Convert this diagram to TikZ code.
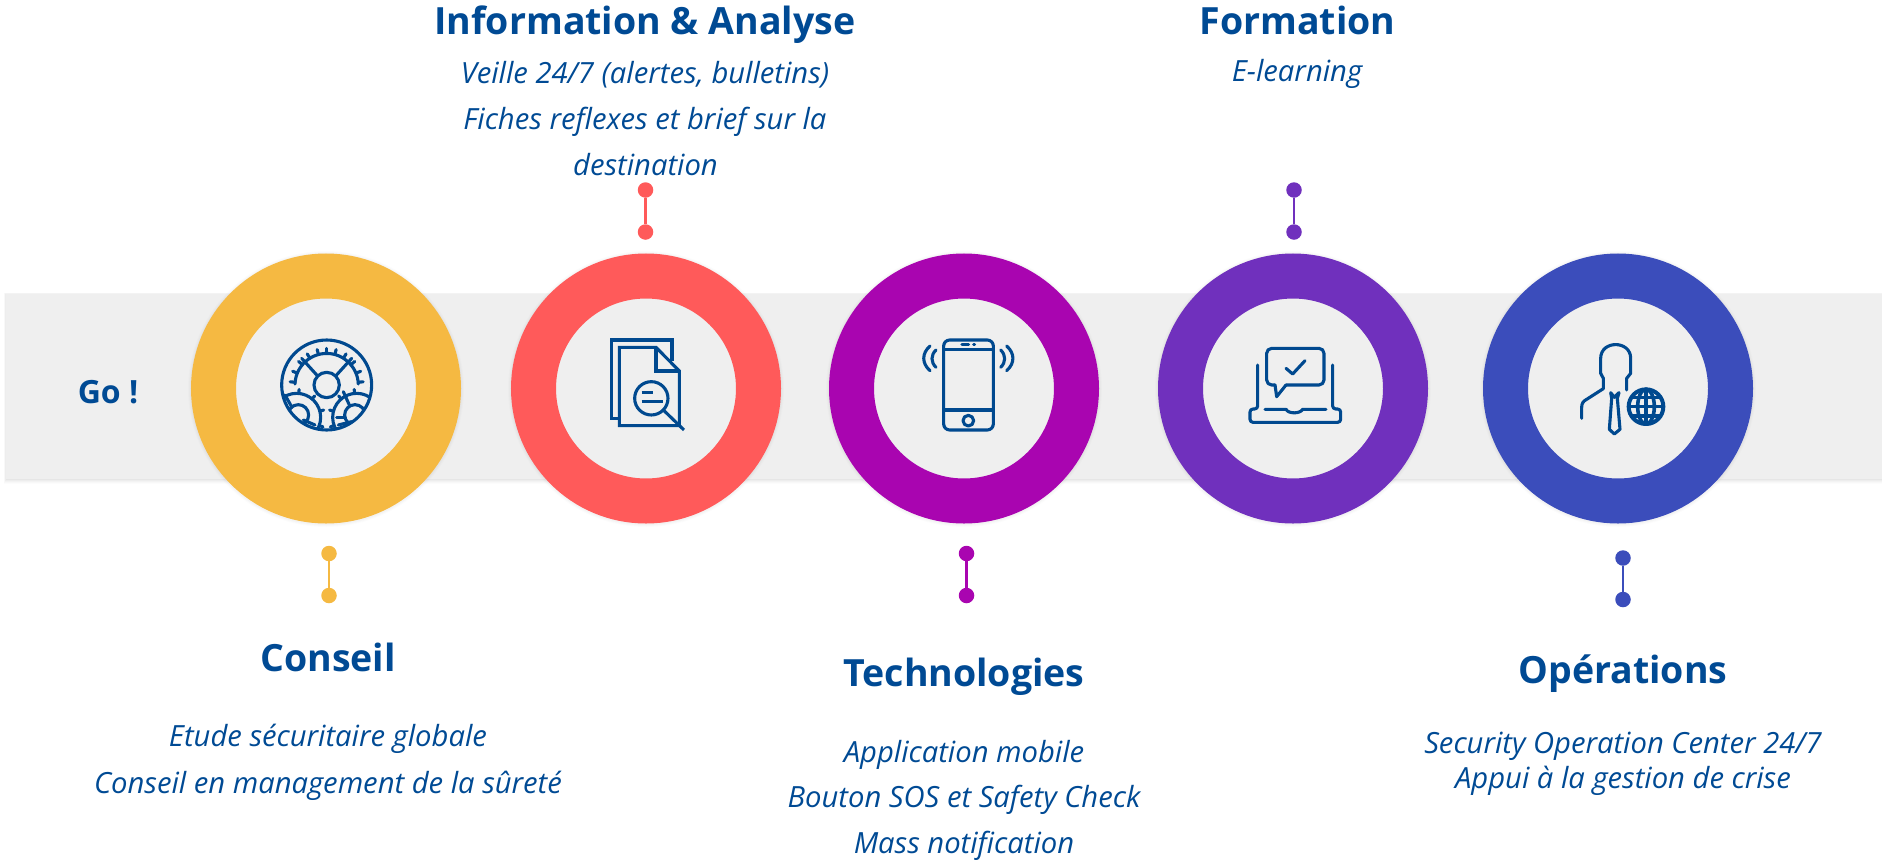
\documentclass[tikz,border=0pt]{standalone}
\usepackage{fontspec}
\setmainfont{Open Sans}
\definecolor{navy}{HTML}{00498F}
\definecolor{txt}{HTML}{004A94}
\definecolor{band}{HTML}{EFEFEF}
\definecolor{cyel}{HTML}{F5B942}
\definecolor{cred}{HTML}{FF5A5A}
\definecolor{cmag}{HTML}{A905B0}
\definecolor{cpur}{HTML}{7030BD}
\definecolor{cblu}{HTML}{3B4DBB}
\tikzset{
  ringnode/.style={circle,draw=#1,line width=45pt,fill=band,minimum size=225pt,inner sep=0pt},
  dotnode/.style={circle,fill=#1,minimum size=15.5pt,inner sep=0pt},
  linkline/.style={draw=#1,line width=2.8pt},
  titletext/.style={text=txt,font=\fontsize{37.5}{40}\selectfont\bfseries,inner sep=0pt},
  bodytext/.style={text=txt,font=\fontsize{29.2}{32}\selectfont\itshape,inner sep=0pt},
  icon/.style={draw=navy,line width=3.1pt,line cap=round,line join=round},
}
\begin{document}
\begin{tikzpicture}[x=1pt,y=-1pt]
\useasboundingbox (0,0) rectangle (1882,860);
% band with soft shadow
\foreach \i/\o in {5/0.012,4/0.016,3/0.02,2/0.025,1/0.03}
  \fill[black,opacity=\o] (6-\i*0.4,294-\i*0.2) rectangle (1882,479+\i);
\fill[band] (6,294) rectangle (1882,479);
\node[text=txt,font=\fontsize{32}{34}\selectfont\bfseries,inner sep=0pt] (go) at (108,392) {Go !};
% rings
\foreach \n/\xx/\c in {r1/326/cyel,r2/646/cred,r3/964/cmag,r4/1293/cpur,r5/1618/cblu}{
  \foreach \i/\o in {3/0.01,2/0.015,1/0.02}
    \fill[black,opacity=\o] (\xx,389) circle (135+\i);
  \node[ringnode=\c] (\n) at (\xx,388.5) {};
}
% connectors
\foreach \a/\b/\xx/\ya/\yb/\c in {a1/b1/329/553.5/595.5/cyel,a2/b2/645.5/190/232/cred,a3/b3/966.5/553.5/595.5/cmag,a4/b4/1294/190/232/cpur,a5/b5/1623/558/599.5/cblu}{
  \node[dotnode=\c] (\a) at (\xx,\ya) {};
  \node[dotnode=\c] (\b) at (\xx,\yb) {};
  \draw[linkline=\c] (\a) -- (\b);
}
% texts
\node[titletext] (t2) at (645,25) {Information \& Analyse};
\node[bodytext] (t2a) at (645,74.5) {Veille 24/7 (alertes, bulletins)};
\node[bodytext] (t2b) at (645,122) {Fiches reflexes et brief sur la};
\node[bodytext] (t2c) at (645.5,165) {destination};
\node[titletext] (t4) at (1297.5,20) {Formation};
\node[bodytext] (t4a) at (1297,73.5) {E-learning};
\node[titletext] (t1) at (328,657.5) {Conseil};
\node[bodytext] (t1a) at (328,738.5) {Etude sécuritaire globale};
\node[bodytext] (t1b) at (328,785.5) {Conseil en management de la sûreté};
\node[titletext] (t3) at (964,677) {Technologies};
\node[bodytext] (t3a) at (964,754.5) {Application mobile};
\node[bodytext] (t3b) at (964,800) {Bouton SOS et Safety Check};
\node[bodytext] (t3c) at (964,845.5) {Mass notification};
\node[titletext] (t5) at (1623,674) {Opérations};
\node[bodytext] (t5a) at (1623,746) {Security Operation Center 24/7};
\node[bodytext] (t5b) at (1623,780.5) {Appui à la gestion de crise};
% gears icon
\begin{scope}[shift={(270,330)},x=0.3333pt,y=-0.3333pt,icon]
  \draw (170,165) circle[radius=135];
  \draw (170,165) circle[radius=38];
  \draw (75,162) arc[start angle=182,end angle=358,radius=95];
  \foreach \a in {185,202,220,238,255,270,285,302,320,338,355}
    \draw (170,165) ++(\a:95) -- ++(\a:15);
  \draw (143,138) -- (95,85);
  \draw (197,138) -- (245,85);
  \begin{scope}
    \clip (170,165) circle[radius=133];
    \draw (80,262) circle[radius=72];
    \draw (260,262) circle[radius=72];
    \draw (85,255) circle[radius=31];
    \draw (255,255) circle[radius=31];
    \draw (45,195) -- (66,232);
    \draw (100,270) -- (135,285);
    \draw (220,185) -- (238,225);
    \draw (200,262) -- (226,262);
    \draw (205,285) -- (245,275);
  \end{scope}
  \foreach \a in {-85,-50,-15,20}
    \draw (80,262) ++(\a:72) -- ++(\a:12);
  \foreach \a in {265,230,195,160}
    \draw (260,262) ++(\a:72) -- ++(\a:12);
\end{scope}
% document icon
\begin{scope}[shift={(560,310)},x=0.3333pt,y=-0.3333pt,icon,line cap=butt,line join=miter]
  \draw (178,325) -- (155,325) -- (155,90) -- (336,90) -- (336,152);
  \draw (178,112) -- (288,112) -- (358,183) -- (358,347) -- (178,347) -- cycle;
  \draw (288,112) -- (288,183) -- (358,183);
  \draw (274,265) circle[radius=50];
  \draw (310,300) -- (372,360);
  \draw (245,247) -- (280,247);
  \draw (245,275) -- (308,275);
\end{scope}
% phone icon
\begin{scope}[shift={(890,310)},x=0.3333pt,y=-0.3333pt,icon]
  \draw[rounded corners=6pt] (161,90) rectangle (310,360);
  \draw (161,118) -- (310,118);
  \draw (161,300) -- (310,300);
  \draw (216,104) -- (236,104);
  \draw (251,104) -- (254,104);
  \draw (235,332) circle[radius=16];
  \draw (120,108) .. controls (95,130) and (95,160) .. (120,182);
  \draw (138,120) .. controls (122,135) and (122,157) .. (138,172);
  \draw (350,108) .. controls (375,130) and (375,160) .. (350,182);
  \draw (332,120) .. controls (348,135) and (348,157) .. (332,172);
\end{scope}
% laptop icon
\begin{scope}[shift={(1220,320)},x=0.3333pt,y=-0.3333pt,icon]
  \draw[rounded corners=3pt] (113,135) -- (113,267) -- (90,267) -- (90,307) -- (362,307) -- (362,267) -- (338,267) -- (338,135);
  \draw (135,268) -- (198,268) .. controls (205,282) and (240,282) .. (248,268) -- (318,268);
  \draw[rounded corners=5pt] (165,195) -- (140,195) -- (140,85) -- (312,85) -- (312,195) -- (198,195);
  \draw (165,195) -- (170,230) -- (198,195);
  \draw (198,145) -- (218,162) -- (255,122);
\end{scope}
% person icon
\begin{scope}[shift={(1560,320)},x=0.3333pt,y=-0.3333pt,icon]
  \draw (65,295) -- (65,262) .. controls (65,250) and (70,243) .. (80,238) -- (130,206) -- (130,175) -- (122,160) -- (122,115)
    .. controls (122,60) and (212,60) .. (212,115) -- (212,160) -- (200,175) -- (200,210);
  \draw (152,218) -- (163,232) -- (177,218) -- (172,235) -- (180,328) -- (163,342) -- (148,328) -- (155,235) -- cycle;
  \draw[line width=4pt] (258,260) circle[radius=52];
  \draw[line width=3.6pt] (258,260) ellipse[x radius=25,y radius=52];
  \draw[line width=3.6pt] (258,208) -- (258,312);
  \draw[line width=3.6pt] (206,260) -- (310,260);
  \draw[line width=3.6pt] (215,232) -- (301,232);
  \draw[line width=3.6pt] (215,288) -- (301,288);
\end{scope}
\end{tikzpicture}
\end{document}
